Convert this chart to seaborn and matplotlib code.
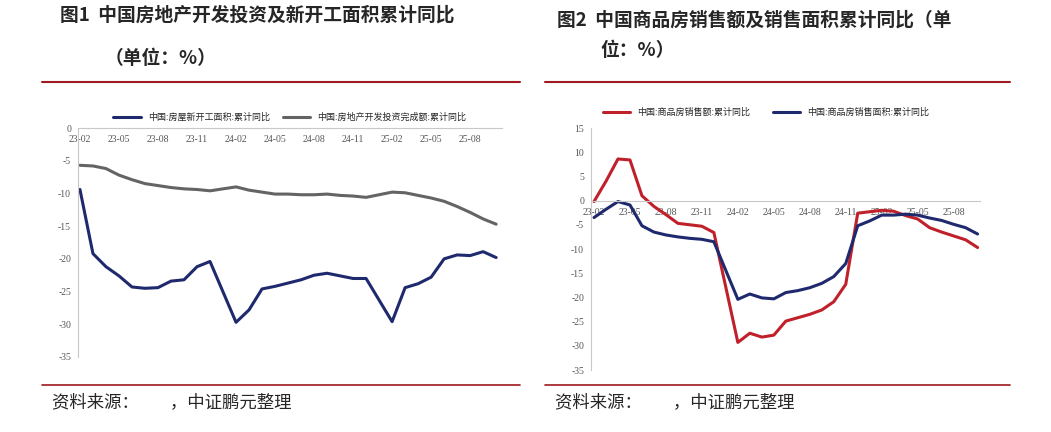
import numpy as np
import pandas as pd
import matplotlib
matplotlib.use("Agg")
import matplotlib.pyplot as plt
import seaborn as sns

nan = np.nan
months = [f"{y}-{m:02d}" for y in (23, 24, 25) for m in range(1, 13)][1:34]
tick_labels = months[::3]

new_start = [-9.4, -19.2, -21.2, -22.6, -24.3, -24.5, -24.4, -23.4, -23.2, -21.2, -20.4, nan,
             -29.7, -27.8, -24.6, -24.2, -23.7, -23.2, -22.5, -22.2, -22.6, -23.0, -23.0, nan,
             -29.6, -24.4, -23.8, -22.8, -20.0, -19.4, -19.5, -18.9, -19.8]
invest = [-5.7, -5.8, -6.2, -7.2, -7.9, -8.5, -8.8, -9.1, -9.3, -9.4, -9.6, nan,
          -9.0, -9.5, -9.8, -10.1, -10.1, -10.2, -10.2, -10.1, -10.3, -10.4, -10.6, nan,
          -9.8, -9.9, -10.3, -10.7, -11.2, -12.0, -12.9, -13.9, -14.7]
sales_amt = [-0.2, 4.0, 8.6, 8.4, 1.0, -1.2, -2.9, -4.7, -5.0, -5.3, -6.6, nan,
             -29.3, -27.4, -28.2, -27.8, -24.9, -24.2, -23.5, -22.6, -20.9, -17.3, -2.6, -2.3,
             -2.0, -2.2, -3.1, -3.8, -5.6, -6.5, -7.3, -8.1, -9.7]
sales_area = [-3.5, -1.8, -0.2, -0.9, -5.2, -6.5, -7.1, -7.5, -7.8, -8.0, -8.5, nan,
              -20.4, -19.3, -20.1, -20.3, -19.0, -18.6, -18.0, -17.1, -15.7, -13.0, -5.2, -4.2,
              -3.0, -3.0, -2.8, -3.0, -3.6, -4.1, -4.9, -5.6, -6.9]

sns.set_style("white")
plt.rcParams['font.family'] = ['Noto Sans CJK SC', 'DejaVu Sans']

W, H = 1051, 432
fig = plt.figure(figsize=(W / 100, H / 100), dpi=100)

def box(x0, y0, x1, y1):
    return [x0 / W, 1 - y1 / H, (x1 - x0) / W, (y1 - y0) / H]

NAVY, GRAY, RED = "#1f2a6e", "#646464", "#c0202a"

def draw(ax, series, colors, names, ylim, yticks, xlim):
    x = np.arange(len(months))
    for vals, c, n in zip(series, colors, names):
        d = pd.DataFrame({"x": x, "y": vals}).dropna()
        sns.lineplot(data=d, x="x", y="y", ax=ax, color=c, lw=2.2, label=n)
    ax.set_xlim(*xlim)
    ax.set_ylim(*ylim)
    ax.set_yticks(yticks)
    ax.set_yticklabels([str(v) for v in yticks])
    ax.set_xticks(x[::3])
    ax.set_xticklabels(tick_labels)
    ax.spines['bottom'].set_position(('data', 0))
    for s in ('top', 'right'):
        ax.spines[s].set_visible(False)
    for s in ('left', 'bottom'):
        ax.spines[s].set_color("#c8c8c8")
    ax.tick_params(axis='both', length=3, color="#c8c8c8", pad=2,
                   labelsize=7, labelcolor="#555555")
    for t in ax.get_xticklabels() + ax.get_yticklabels():
        t.set_fontfamily("Liberation Serif")
        t.set_fontsize(7)
    ax.set_xlabel("")
    ax.set_ylabel("")
    ax.patch.set_alpha(0)

ax1 = fig.add_axes(box(78, 128, 502, 357))
draw(ax1, [new_start, invest], [NAVY, GRAY],
     ["中国:房屋新开工面积:累计同比", "中国:房地产开发投资完成额:累计同比"],
     (-35, 0), list(range(-35, 1, 5)), (-0.15, 32.45))
ax1.legend(loc="lower center", bbox_to_anchor=(0.5, 1.0), ncol=2, frameon=False,
           fontsize=6.5, handlelength=3, columnspacing=1.5, borderaxespad=0.3)

ax2 = fig.add_axes(box(591, 128, 980, 370))
draw(ax2, [sales_amt, sales_area], [RED, NAVY],
     ["中国:商品房销售额:累计同比", "中国:商品房销售面积:累计同比"],
     (-35, 15), list(range(-35, 16, 5)), (-0.25, 32.2))
ax2.legend(loc="lower center", bbox_to_anchor=(0.45, 1.02), ncol=2, frameon=False,
           fontsize=6.5, handlelength=3, columnspacing=2.5, borderaxespad=0.3)

# titles, rules, source notes
tfont = dict(fontsize=13.5, fontweight="bold", va="center")
fig.text(60 / W, 1 - 15 / H, "图1  中国房地产开发投资及新开工面积累计同比", **tfont)
fig.text(105 / W, 1 - 58 / H, "（单位：%）", **tfont)
fig.text(557 / W, 1 - 20 / H, "图2  中国商品房销售额及销售面积累计同比（单", **tfont)
fig.text(600 / W, 1 - 50 / H, "位：%）", **tfont)
for x0, x1 in ((42, 520), (545, 1010)):
    fig.add_artist(plt.Line2D([x0 / W, x1 / W], [1 - 82 / H] * 2, color="#a0191e", lw=1.5))
    fig.add_artist(plt.Line2D([x0 / W, x1 / W], [1 - 385 / H] * 2, color="#a0191e", lw=1.2))
fig.text(52 / W, 1 - 402 / H, "资料来源：        ，中证鹏元整理", fontsize=12.5, va="center")
fig.text(555 / W, 1 - 402 / H, "资料来源：        ，中证鹏元整理", fontsize=12.5, va="center")

fig.savefig("out.png", dpi=100)
